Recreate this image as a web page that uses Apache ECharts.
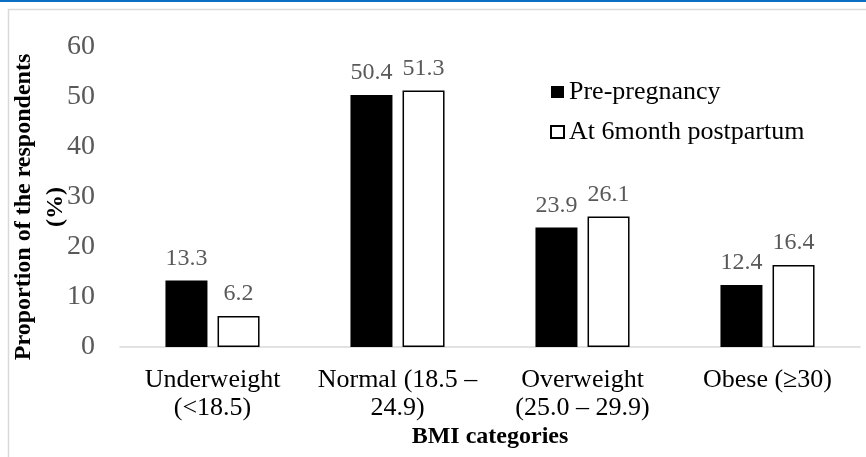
<!DOCTYPE html>
<html>
<head>
<meta charset="utf-8">
<script src="https://cdn.jsdelivr.net/npm/echarts@6/dist/echarts.min.js"></script>
<style>
html,body{margin:0;padding:0;background:#fff;}
#chart{width:866px;height:457px;}
</style>
</head>
<body>
<div id="chart"></div>
<script>
const categories = ['Underweight\n(<18.5)', 'Normal (18.5 –\n24.9)', 'Overweight\n(25.0 – 29.9)', 'Obese (≥30)'];
const prePregnancy = [13.3, 50.4, 23.9, 12.4];
const postpartum6m = [6.2, 51.3, 26.1, 16.4];
const seriesNames = ['Pre-pregnancy', 'At 6month postpartum'];
const yTicks = [0, 10, 20, 30, 40, 50, 60];

const FONT = "'Liberation Serif', 'Times New Roman', serif";
const chart = echarts.init(document.getElementById('chart'), null, {renderer: 'canvas'});
chart.setOption({
  backgroundColor: '#fff',
  animation: false,
  graphic: [
    {type: 'rect', shape: {x: 0, y: 0, width: 866, height: 2}, style: {fill: '#0a6fc2'}, silent: true},
    {type: 'rect', shape: {x: 8.5, y: 9.5, width: 870, height: 460}, style: {fill: 'none', stroke: '#d9d9d9', lineWidth: 1.5}, silent: true}
  ],
  legend: {
    orient: 'vertical',
    left: 550,
    top: 79,
    padding: 0,
    itemWidth: 13,
    itemHeight: 12,
    itemGap: 14,
    icon: 'rect',
    textStyle: {fontFamily: FONT, fontSize: 26, color: '#000'},
    data: seriesNames
  },
  grid: {left: 120, right: 6, top: 47, bottom: 110, containLabel: false, outerBoundsMode: 'none'},
  xAxis: {
    type: 'category',
    data: categories,
    axisLine: {lineStyle: {color: '#d9d9d9', width: 1.5}},
    axisTick: {show: false},
    axisLabel: {fontFamily: FONT, fontSize: 26, color: '#000', margin: 19, lineHeight: 28, interval: 0},
    name: 'BMI categories',
    nameLocation: 'middle',
    nameGap: 78,
    nameMoveOverlap: false,
    nameTextStyle: {fontFamily: FONT, fontSize: 24, fontWeight: 'bold', color: '#000'}
  },
  yAxis: {
    type: 'value',
    min: 0, max: 60, interval: 10,
    axisLine: {show: false},
    axisTick: {show: false},
    splitLine: {show: false},
    axisLabel: {fontFamily: FONT, fontSize: 28, color: '#595959', margin: 25,
      formatter: v => yTicks.includes(v) ? String(v) : ''},
    name: 'Proportion of the respondents\n(%)',
    nameLocation: 'middle',
    nameRotate: 90,
    nameGap: 48,
    nameMoveOverlap: false,
    nameTextStyle: {fontFamily: FONT, fontSize: 24, fontWeight: 'bold', color: '#000', lineHeight: 32, padding: [0, 20, 0, 0]}
  },
  series: [
    {
      name: seriesNames[0], type: 'bar', data: prePregnancy,
      barWidth: 42, barGap: '24%',
      itemStyle: {color: '#000', borderColor: '#000', borderWidth: 0},
      label: {show: true, position: 'top', distance: 10, fontFamily: FONT, fontSize: 24, color: '#595959'}
    },
    {
      name: seriesNames[1], type: 'bar', data: postpartum6m,
      barWidth: 42,
      itemStyle: {color: '#fff', borderColor: '#000', borderWidth: 1.5},
      label: {show: true, position: 'top', distance: 10, fontFamily: FONT, fontSize: 24, color: '#595959'}
    }
  ]
});
</script>
</body>
</html>
